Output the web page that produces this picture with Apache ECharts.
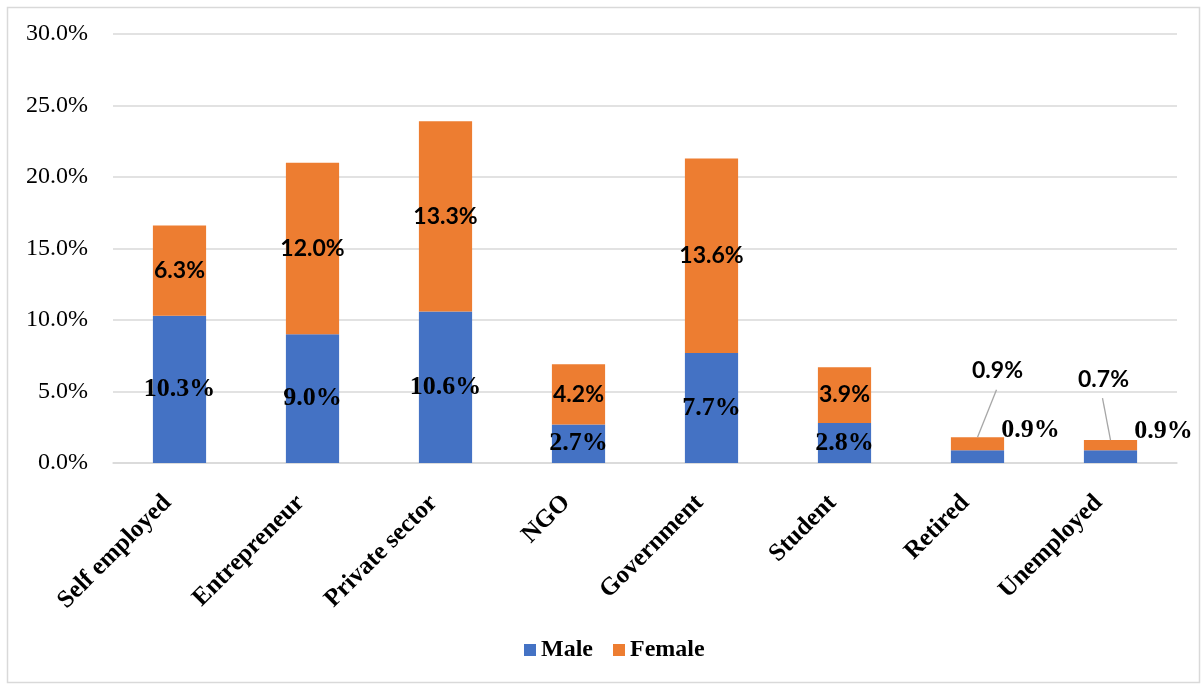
<!DOCTYPE html>
<html>
<head>
<meta charset="utf-8">
<script src="https://cdn.jsdelivr.net/npm/echarts@6/dist/echarts.min.js"></script>
<style>
  html, body { margin: 0; padding: 0; background: #fff; }
  #chart { width: 1204px; height: 686px; }
</style>
</head>
<body>
<div id="chart"></div>
<script>
// Occupation categories and the share of respondents (%) by gender
const categories = ['Self employed', 'Entrepreneur', 'Private sector', 'NGO', 'Government', 'Student', 'Retired', 'Unemployed'];
const maleValues = [10.3, 9.0, 10.6, 2.7, 7.7, 2.8, 0.9, 0.9];
const femaleValues = [6.3, 12.0, 13.3, 4.2, 13.6, 3.9, 0.9, 0.7];
const yTicks = [0, 5, 10, 15, 20, 25, 30];

// Small segments get their labels moved outside the bar (pixel offsets)
const maleMoves = { 6: [53, -26], 7: [53, -25] };
const femaleMoves = { 6: [20, -73], 7: [-7, -66] };

const pct = v => Number(v).toFixed(1) + '%';

function moveBy(moves) {
  return function (params) {
    const m = moves[params.dataIndex];
    return m ? { dx: m[0], dy: m[1] } : {};
  };
}

// Leader lines for the moved female labels: from just below the label
// down to the top centre of the stacked bar.
const leaderIdx = Object.keys(femaleMoves).map(Number);

function renderLeader(params, api) {
  const i = api.value(0);
  const m = femaleMoves[i];
  const mid = api.coord([i, maleValues[i] + femaleValues[i] / 2]);
  const top = api.coord([i, maleValues[i] + femaleValues[i]]);
  const sx = mid[0] + m[0] - 1;
  const sy = mid[1] + m[1] + 19;
  return {
    type: 'line',
    shape: { x1: sx, y1: sy, x2: top[0], y2: top[1] },
    style: { stroke: '#a6a6a6', lineWidth: 1.3 }
  };
}

const chart = echarts.init(document.getElementById('chart'), null, { renderer: 'canvas' });

chart.setOption({
  backgroundColor: '#ffffff',
  animation: false,
  graphic: [{
    type: 'rect',
    left: 5, top: 5,
    shape: { width: 1192, height: 675 },
    style: { fill: 'none', stroke: '#d9d9d9', lineWidth: 1.5 },
    silent: true
  }],
  grid: { left: 113, right: 27, top: 34, bottom: 223 },
  legend: {
    bottom: 19,
    left: 519,
    itemWidth: 12,
    itemHeight: 12,
    itemGap: 20,
    icon: 'rect',
    textStyle: { fontFamily: 'Liberation Serif', fontWeight: 'bold', fontSize: 24, color: '#000' },
    data: ['Male', 'Female']
  },
  xAxis: {
    type: 'category',
    data: categories,
    axisLine: { show: true, lineStyle: { color: '#d9d9d9', width: 1.5 } },
    axisTick: { show: false },
    axisLabel: {
      rotate: 45,
      interval: 0,
      margin: 24,
      padding: [0, 17, 0, 0],
      fontFamily: 'Liberation Serif',
      fontWeight: 'bold',
      fontSize: 25,
      color: '#000'
    }
  },
  yAxis: {
    type: 'value',
    min: yTicks[0],
    max: yTicks[yTicks.length - 1],
    interval: 5,
    axisLine: { show: false },
    axisTick: { show: false },
    splitLine: { lineStyle: { color: '#d9d9d9', width: 1.5 } },
    axisLabel: {
      margin: 25,
      formatter: v => pct(v),
      fontFamily: 'Liberation Serif',
      fontSize: 24,
      color: '#000'
    }
  },
  series: [
    {
      name: 'Male',
      type: 'bar',
      stack: 'total',
      barWidth: '40%',
      itemStyle: { color: '#4472C4' },
      data: maleValues,
      label: {
        show: true,
        position: 'inside',
        formatter: p => pct(p.value),
        fontFamily: 'Liberation Serif',
        fontWeight: 'bold',
        fontSize: 26,
        color: '#000'
      },
      labelLayout: moveBy(maleMoves)
    },
    {
      name: 'Female',
      type: 'bar',
      stack: 'total',
      barWidth: '40%',
      itemStyle: { color: '#ED7D31' },
      data: femaleValues,
      label: {
        show: true,
        position: 'inside',
        formatter: p => pct(p.value),
        fontFamily: 'Lato',
        fontWeight: 'bold',
        fontSize: 23,
        color: '#000'
      },
      labelLayout: moveBy(femaleMoves)
    },
    {
      name: 'leaders',
      type: 'custom',
      silent: true,
      z: 5,
      renderItem: renderLeader,
      data: leaderIdx.map(i => [i])
    }
  ]
});
</script>
</body>
</html>
